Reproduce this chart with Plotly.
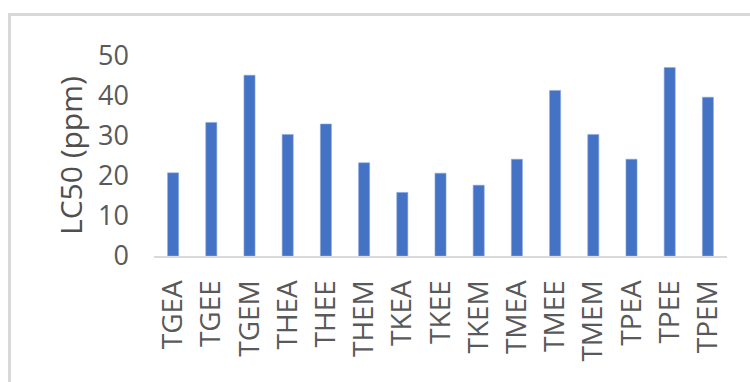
import plotly.graph_objects as go

# LC50 values per extract
samples = ["TGEA", "TGEE", "TGEM", "THEA", "THEE", "THEM", "TKEA", "TKEE",
           "TKEM", "TMEA", "TMEE", "TMEM", "TPEA", "TPEE", "TPEM"]
lc50 = [20.8, 33.4, 45.2, 30.4, 33.0, 23.3, 15.9, 20.7,
        17.7, 24.2, 41.4, 30.4, 24.2, 47.1, 39.7]
y_ticks = [0, 10, 20, 30, 40, 50]

W, H = 750, 382
L, R, T, B = 154, 23, 56, 126
GRAY = "#595959"
FONT = "Open Sans"

fig = go.Figure(go.Bar(
    x=samples, y=lc50,
    marker=dict(color="#4472C4", line=dict(color="#8fa9dc", width=0.6)),
))

fig.update_layout(
    width=W, height=H,
    margin=dict(l=L, r=R, t=T, b=B, pad=0),
    paper_bgcolor="white", plot_bgcolor="white",
    bargap=0.71,
    showlegend=False,
    font=dict(family=FONT, color=GRAY, size=27),
)

fig.update_xaxes(
    type="category", tickangle=-90,
    showline=True, linecolor="#d9d9d9", linewidth=2,
    showgrid=False, ticks="", ticklabelstandoff=11,
    tickfont=dict(size=28, color=GRAY, family=FONT),
)
fig.update_yaxes(
    range=[0, 50], tickvals=y_ticks,
    showgrid=False, zeroline=False, showline=False, ticks="",
    ticklabelstandoff=24,
    tickfont=dict(size=27, color=GRAY, family=FONT),
)

# y-axis title
fig.add_annotation(
    text="LC50 (ppm)", textangle=-90,
    xref="paper", yref="paper",
    x=(70 - L) / (W - L - R), y=0.5,
    xanchor="center", yanchor="middle", showarrow=False,
    font=dict(size=30, color="#4f4f4f", family=FONT),
)

# chart frame (top and left edges visible)
fig.add_shape(
    type="rect", xref="paper", yref="paper",
    x0=(9.5 - L) / (W - L - R), x1=(W + 20 - L) / (W - L - R),
    y0=(H - B - (H + 20)) / (H - T - B), y1=(H - B - 14.5) / (H - T - B),
    line=dict(color="#d9d9d9", width=3), layer="below",
)

fig.write_html("out.html")
